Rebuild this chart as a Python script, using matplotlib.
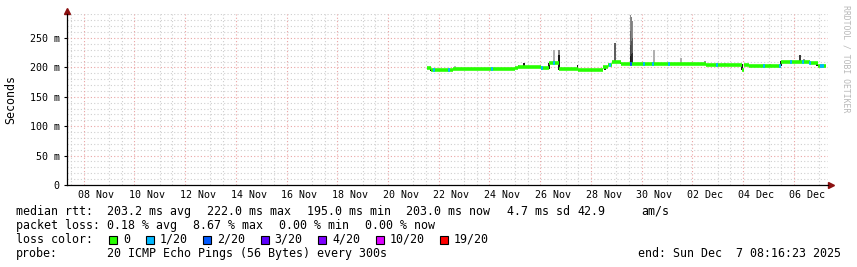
import matplotlib
matplotlib.use("Agg")
import matplotlib.pyplot as plt
import matplotlib.dates as mdates
from matplotlib.patches import Rectangle
import numpy as np
import pandas as pd

W, H = 857, 267

t_start = pd.Timestamp("2025-11-07 08:16:23")
t_end = pd.Timestamp("2025-12-07 08:16:23")

# median rtt, piecewise constant (ms); the last time closes the final step
step_times = ["2025-11-21 12:34", "2025-11-21 16:22", "2025-11-22 13:46", "2025-11-25 00:04",
              "2025-11-25 03:16", "2025-11-25 09:34", "2025-11-26 00:22", "2025-11-26 08:16",
              "2025-11-26 17:28", "2025-11-27 11:40", "2025-11-28 11:22", "2025-11-28 16:04",
              "2025-11-28 19:52", "2025-11-29 04:22", "2025-12-02 12:46", "2025-12-03 22:52",
              "2025-12-04 01:16", "2025-12-04 05:28", "2025-12-05 11:28", "2025-12-06 15:10",
              "2025-12-06 23:04", "2025-12-07 06:22"]
step_rtt = [199, 195, 198, 199.5, 201, 200, 198.5, 207, 196.8, 195.6, 200, 204,
            209.7, 205, 204.3, 196, 204, 202, 209.7, 208, 203]

# short stretches with lost pings (index into loss colours)
loss_times = ["2025-11-21 19:28", "2025-11-22 09:39", "2025-11-24 02:16", "2025-11-26 02:04",
              "2025-11-26 12:58", "2025-11-28 17:58", "2025-11-29 14:16", "2025-11-30 02:34",
              "2025-11-30 10:40", "2025-12-01 01:46", "2025-12-02 23:10", "2025-12-04 19:40",
              "2025-12-05 10:46", "2025-12-05 21:10", "2025-12-06 08:34", "2025-12-06 15:10",
              "2025-12-07 01:34", "2025-12-07 03:30"]
loss_level = [1, 1, 1, 1, 1, 1, 2, 1, 1, 1, 1, 1, 1, 1, 1, 1, 1, 1]

# smoke: spread of the pings around the median (ms) and its density 0..1
smoke_times = ["2025-11-21 16:22", "2025-11-22 15:16", "2025-11-25 03:16", "2025-11-25 08:52",
               "2025-11-26 08:34", "2025-11-26 12:58", "2025-11-26 17:40", "2025-11-26 17:40",
               "2025-11-27 11:22", "2025-11-28 13:16", "2025-11-28 22:40", "2025-11-29 03:52",
               "2025-11-29 13:22", "2025-11-29 13:22", "2025-11-29 13:22", "2025-11-29 13:22",
               "2025-11-29 14:18", "2025-11-29 14:18", "2025-11-29 14:18",
               "2025-11-29 15:14", "2025-11-29 15:14", "2025-11-29 15:14",
               "2025-11-30 11:52", "2025-12-01 13:04", "2025-12-02 11:22", "2025-12-02 12:20",
               "2025-12-03 06:46", "2025-12-03 22:52", "2025-12-05 01:16", "2025-12-05 11:40",
               "2025-12-06 05:40", "2025-12-06 09:28", "2025-12-06 21:46"]
smoke_low = [194, 198, 199, 200, 198, 207, 196, 196, 196, 196, 209, 205,
             205, 205, 205, 205,
             205, 205, 205,
             205, 205, 205,
             205, 205, 205, 205, 204, 195, 202, 202, 210, 210, 203]
smoke_high = [199, 202, 204, 207, 207, 229, 229, 221, 204, 203, 242, 210,
              289, 262, 238, 220,
              286, 245, 222,
              279, 250, 225,
              229, 216, 211, 211, 208, 205, 206, 211, 221, 214, 209]
smoke_density = [1.0, 0.3, 0.45, 1.0, 1.0, 0.35, 0.55, 1.0, 1.0, 1.0, 0.7, 1.0,
                 0.5, 0.65, 0.8, 1.0,
                 0.55, 0.75, 0.95,
                 0.5, 0.7, 0.9,
                 0.35, 0.35, 0.45, 0.45, 0.3, 1.0, 0.4, 1.0, 0.85, 0.45, 1.0]

loss_labels = ["0", "1/20", "2/20", "3/20", "4/20", "10/20", "19/20"]
loss_colors = ["#26ff00", "#00b8ff", "#0059ff", "#5e00ff", "#7e00ff", "#dd00ff", "#ff0000"]

rtt_stats = ["203.2 ms avg", "222.0 ms max", "195.0 ms min", "203.0 ms now", "4.7 ms sd", "42.9", "am/s"]
loss_stats = ["0.18 % avg", "8.67 % max", "0.00 % min", "0.00 % now"]
probe_text = "20 ICMP Echo Pings (56 Bytes) every 300s"
end_text = "end: Sun Dec  7 08:16:23 2025"

plt.rcParams["font.family"] = "DejaVu Sans Mono"
grid_grey = "#cfcfcf"
grid_red = "#eaa4a4"
dots = (0, (1, 2))

fig = plt.figure(figsize=(W / 100, H / 100), dpi=100, facecolor="white")
ax = fig.add_axes([67 / W, 82 / H, 761 / W, 171.5 / H])
px = 30 / 761  # days per pixel

# smoke
sm_t = mdates.date2num(pd.to_datetime(smoke_times))
ax.bar(sm_t, (np.array(smoke_high) - np.array(smoke_low)) / 1000,
       bottom=np.array(smoke_low) / 1000, width=1.6 * px, linewidth=0,
       color=[str(round(1 - 0.9 * d, 2)) for d in smoke_density], zorder=2)

# median line
st = mdates.date2num(pd.to_datetime(step_times))
rtt = np.array(step_rtt) / 1000
ax.hlines(rtt, st[:-1], st[1:], colors=loss_colors[0], lw=2.6, zorder=3)

lt = mdates.date2num(pd.to_datetime(loss_times))
idx = np.searchsorted(st[:-1], lt, side="right") - 1
ax.hlines(rtt[idx], lt - px, lt + px, colors=[loss_colors[i] for i in loss_level], lw=2.6, zorder=4)

# axes, grid
ax.set_xlim(mdates.date2num(t_start), mdates.date2num(t_end))
ax.set_ylim(0, 0.2917)

major_x = pd.date_range("2025-11-08", "2025-12-06", freq="2D")
minor_x = [d for d in pd.date_range("2025-11-07 12:00", "2025-12-07 00:00", freq="12h") if d not in major_x]
ax.set_xticks(mdates.date2num(major_x + pd.Timedelta(hours=12)))
ax.set_xticklabels([d.strftime("%d %b") for d in major_x])
ax.set_xticks(mdates.date2num(minor_x), minor=True)
for d in major_x:
    ax.axvline(mdates.date2num(d), color=grid_red, lw=0.8, ls=dots, zorder=1)

ax.set_yticks(np.arange(0, 0.26, 0.05))
ax.set_yticklabels(["0"] + [f"{v} m" for v in range(50, 251, 50)])
ax.set_yticks([v / 1000 for v in range(10, 291, 10) if v % 50], minor=True)
ax.grid(which="minor", color=grid_grey, lw=0.8, ls=dots)
ax.grid(which="major", axis="y", color=grid_red, lw=0.8, ls=dots)
ax.set_axisbelow(True)

for s in ["top", "right"]:
    ax.spines[s].set_visible(False)
for s in ["left", "bottom"]:
    ax.spines[s].set_linewidth(0.9)
ax.tick_params(axis="x", which="both", length=0, pad=3.5, labelsize=7.2)
ax.tick_params(axis="y", which="major", length=2.2, width=0.8, pad=3, labelsize=7.2)
ax.tick_params(axis="y", which="minor", length=0)

ax.plot([1 + 3 / 761], [0], marker=">", ms=4, color="#8b1010", transform=ax.transAxes, clip_on=False)
ax.plot([0], [1 + 3 / 171.5], marker="^", ms=4, color="#8b1010", transform=ax.transAxes, clip_on=False)

fig.text(11 / W, 1 - 99 / H, "Seconds", rotation=90, fontsize=8.4, ha="center", va="center")
fig.text(846 / W, 1 - 59 / H, "RRDTOOL / TOBI OETIKER", rotation=270, fontsize=5.9,
         color="#b8b8b8", ha="center", va="center")


def ftxt(x, y, s, **kw):
    fig.text(x / W, 1 - y / H, s, fontsize=8.4, va="baseline", **kw)


ftxt(16, 215, "median rtt:")
for x, s in zip([107, 207, 307, 406, 507, 577, 641], rtt_stats):
    ftxt(x, 215, s)
ftxt(16, 229, "packet loss:")
for x, s in zip([107, 193, 279, 365], loss_stats):
    ftxt(x, 229, s)
ftxt(16, 243, "loss color:")
x = 109
for lab, col in zip(loss_labels, loss_colors):
    fig.add_artist(Rectangle((x / W, 1 - 243.5 / H), 8 / W, 8 / H, transform=fig.transFigure,
                             facecolor=col, edgecolor="black", lw=0.8))
    ftxt(x + 14, 243, lab)
    x += 14 + 7 * len(lab) + 15.5
ftxt(16, 257, "probe:")
ftxt(107, 257, probe_text)
ftxt(841, 257, end_text, ha="right")

fig.savefig("out.png", dpi=100, facecolor="white")
